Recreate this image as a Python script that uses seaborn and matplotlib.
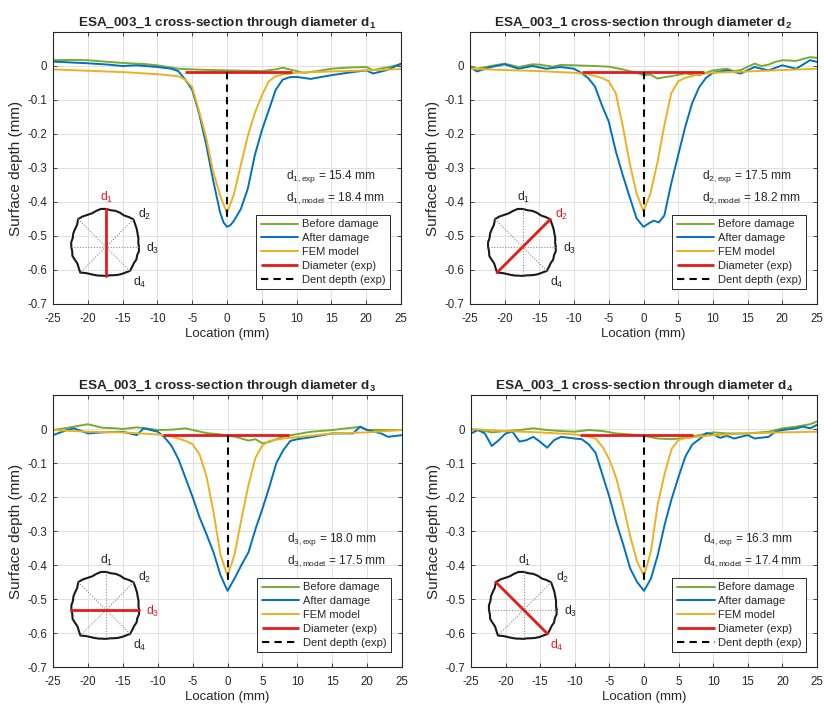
import matplotlib
matplotlib.use('Agg')
import matplotlib.pyplot as plt
import seaborn as sns
import numpy as np

# ---- data (mm) ----
panel_ids = [1, 2, 3, 4]
d_exp = [15.4, 17.5, 18.0, 16.3]
d_model = [18.4, 18.2, 17.5, 17.4]
diam_start = [-6.1, -8.8, -9.2, -9.2]
diam_end = [9.3, 8.7, 8.8, 7.1]
diam_level = [-0.019, -0.019, -0.019, -0.019]
dent_depth = [-0.458, -0.458, -0.46, -0.456]

# panel 1 (d1)
x1_before = [-25, -22, -20, -17, -15, -12, -10, -7, -5, -2, 0, 3, 5, 7, 8, 10, 11, 13, 15, 18, 20, 21, 23, 25]
y1_before = [0.017, 0.018, 0.017, 0.012, 0.009, 0.006, 0.002, -0.008, -0.01, -0.012, -0.013, -0.014, -0.015,
             -0.01, -0.005, -0.015, -0.02, -0.015, -0.008, -0.004, -0.003, -0.012, -0.004, 0.005]
x1_after = [-25, -20, -17, -15, -13, -10, -8, -7, -6, -5, -4, -3, -2, -1, -0.5, 0, 0.5, 1, 2, 3, 4, 5, 6, 7,
            8, 9, 10, 12, 15, 18, 20, 21, 23, 25]
y1_after = [0.013, 0.008, 0.004, 0.0, 0.002, -0.003, -0.008, -0.015, -0.04, -0.07, -0.14, -0.23, -0.335,
            -0.43, -0.46, -0.473, -0.468, -0.455, -0.42, -0.36, -0.262, -0.19, -0.13, -0.07, -0.04, -0.033,
            -0.032, -0.038, -0.027, -0.018, -0.013, -0.022, -0.012, 0.007]
x1_fem = [-25, -20, -15, -10, -7, -6, -5, -4, -3, -2, -1, 0, 1, 2, 3, 4, 5, 6, 7, 8, 10, 15, 20, 25]
y1_fem = [-0.01, -0.014, -0.018, -0.024, -0.03, -0.04, -0.062, -0.133, -0.21, -0.31, -0.38, -0.433, -0.377,
          -0.29, -0.205, -0.138, -0.087, -0.045, -0.03, -0.025, -0.02, -0.016, -0.013, -0.009]

# panel 2 (d2)
x2_before = [-25, -24, -22, -20, -18, -16, -15, -13, -12, -10, -7, -5, -3, -1, 0, 1, 2, 3, 4, 6, 8, 10, 12,
             13, 14, 16, 17, 18, 19, 20, 22, 24, 25]
y2_before = [0.0, -0.008, 0.0, 0.007, -0.003, 0.005, 0.004, -0.002, 0.003, 0.002, 0.0, -0.002, -0.01, -0.02,
             -0.027, -0.025, -0.037, -0.033, -0.03, -0.022, -0.027, -0.013, -0.008, -0.015, -0.012, 0.007,
             0.0, 0.004, 0.012, 0.017, 0.015, 0.026, 0.024]
x2_after = [-25, -24, -22, -20, -18, -16, -14, -12, -10, -9, -8, -7, -6, -5, -4, -3, -2, -1, 0, 1, 1.5, 2.2,
            3, 4, 5, 6, 7, 8, 9, 10, 12, 14, 16, 18, 20, 22, 24, 25]
y2_after = [-0.003, -0.016, -0.003, 0.005, -0.008, 0.0, -0.008, -0.003, -0.008, -0.02, -0.035, -0.06, -0.115,
            -0.164, -0.25, -0.32, -0.385, -0.448, -0.473, -0.46, -0.455, -0.46, -0.44, -0.345, -0.262, -0.18,
            -0.11, -0.063, -0.035, -0.02, -0.013, -0.022, -0.003, -0.013, 0.002, -0.008, 0.017, 0.012]
x2_fem = [-25, -20, -15, -10, -8, -6, -5, -4, -3, -2, -1, 0, 1, 2, 3, 4, 5, 6, 8, 10, 15, 20, 25]
y2_fem = [-0.008, -0.012, -0.015, -0.02, -0.024, -0.035, -0.045, -0.08, -0.175, -0.285, -0.375, -0.428,
          -0.375, -0.285, -0.175, -0.08, -0.045, -0.035, -0.024, -0.02, -0.016, -0.012, -0.008]

# panel 3 (d3)
x3_before = [-25, -23, -22, -20, -18, -16, -15, -13, -11, -10, -8, -6, -5, -3, -1, 0, 1, 2, 3, 4, 5, 6, 7, 8,
             10, 12, 15, 17, 19, 20, 22, 25]
y3_before = [-0.003, 0.003, 0.007, 0.014, 0.004, 0.002, 0.0, 0.005, 0.0, -0.003, -0.002, 0.002, -0.003,
             -0.012, -0.016, -0.02, -0.022, -0.028, -0.034, -0.03, -0.042, -0.038, -0.03, -0.022, -0.015,
             -0.008, -0.003, 0.002, 0.006, -0.003, -0.003, -0.003]
x3_after = [-25, -23, -22, -20, -18, -15, -13, -12, -10, -9, -8, -7, -6, -5, -4, -3, -2, -1, 0, 1, 2, 3, 4, 5,
            6, 7, 8, 9, 10, 12, 15, 18, 19, 20, 22, 23, 25]
y3_after = [-0.018, -0.003, 0.002, -0.013, -0.01, -0.008, -0.018, 0.002, -0.008, -0.025, -0.05, -0.09, -0.145,
            -0.2, -0.26, -0.31, -0.363, -0.43, -0.476, -0.44, -0.4, -0.363, -0.295, -0.235, -0.17, -0.1,
            -0.062, -0.035, -0.03, -0.024, -0.013, -0.013, 0.007, -0.003, -0.013, -0.023, -0.018]
x3_fem = [-25, -20, -15, -10, -8, -6, -5, -4, -3, -2, -1, 0, 1, 2, 3, 4, 5, 6, 8, 10, 15, 20, 25]
y3_fem = [-0.003, -0.008, -0.01, -0.016, -0.022, -0.035, -0.045, -0.075, -0.14, -0.245, -0.37, -0.432, -0.37,
          -0.265, -0.165, -0.085, -0.048, -0.035, -0.028, -0.024, -0.013, -0.01, -0.003]

# panel 4 (d4)
x4_before = [-25, -23, -22, -20, -18, -16, -14, -12, -10, -8, -6, -4, -2, 0, 2, 4, 6, 8, 10, 12, 15, 18, 20,
             22, 24, 25]
y4_before = [-0.001, -0.006, -0.01, -0.006, -0.003, 0.002, -0.003, -0.006, -0.008, -0.003, -0.006, -0.013,
             -0.016, -0.02, -0.028, -0.03, -0.026, -0.018, -0.01, -0.013, -0.013, -0.008, 0.002, 0.007,
             0.014, 0.022]
x4_after = [-25, -24, -23, -22, -21, -20, -19, -18, -17, -16, -15, -14, -13, -12, -10, -9, -8, -7, -6, -5,
            -4, -3, -2, -1, 0, 1, 2, 3, 4, 5, 6, 7, 8, 9, 10, 11, 12, 13, 15, 16, 18, 19, 20, 22, 23, 24, 25]
y4_after = [-0.013, -0.003, -0.013, -0.05, -0.033, -0.013, -0.008, -0.037, -0.033, -0.023, -0.038, -0.055,
            -0.033, -0.023, -0.028, -0.03, -0.045, -0.07, -0.135, -0.2, -0.275, -0.34, -0.41, -0.45, -0.476,
            -0.44, -0.37, -0.28, -0.205, -0.14, -0.08, -0.045, -0.03, -0.012, -0.016, -0.026, -0.02, -0.028,
            -0.018, -0.028, -0.023, -0.008, -0.003, 0.002, 0.007, 0.002, 0.012]
x4_fem = [-25, -20, -15, -10, -8, -7, -6, -5, -4, -3, -2, -1, 0, 1, 2, 3, 4, 5, 6, 8, 10, 15, 20, 25]
y4_fem = [0.0, -0.006, -0.01, -0.016, -0.022, -0.028, -0.052, -0.09, -0.145, -0.225, -0.315, -0.39, -0.432,
          -0.36, -0.22, -0.13, -0.058, -0.032, -0.027, -0.022, -0.018, -0.013, -0.01, -0.008]

# specimen outline for the little sketch: radius every 7.5 deg, starting at 3 o'clock
outline_r = [1.00, 0.99, 1.02, 1.04, 1.08, 1.12, 1.18, 1.14, 1.10, 1.12, 1.13, 1.12,
             1.15, 1.16, 1.13, 1.10, 1.12, 1.16, 1.19, 1.10, 1.08, 1.07, 1.04, 1.06,
             1.05, 1.03, 1.05, 1.02, 1.00, 1.04, 1.10, 1.00, 0.95, 0.92, 0.90, 0.88,
             0.88, 0.87, 0.89, 0.92, 0.95, 0.98, 1.03, 1.00, 0.98, 1.00, 0.98, 1.01]
diam_angles = [90, 45, 0, 135]
sketch_label_xy = [(0.02, 1.5), (1.17, 0.97), (1.42, -0.05), (1.02, -1.07)]

before_x = [x1_before, x2_before, x3_before, x4_before]
before_y = [y1_before, y2_before, y3_before, y4_before]
after_x = [x1_after, x2_after, x3_after, x4_after]
after_y = [y1_after, y2_after, y3_after, y4_after]
fem_x = [x1_fem, x2_fem, x3_fem, x4_fem]
fem_y = [y1_fem, y2_fem, y3_fem, y4_fem]

c_green = '#77AC30'
c_blue = '#0072BD'
c_yellow = '#EDB120'
c_red = '#E8191C'
c_text = '#262626'

sns.set_style('whitegrid', {'grid.color': '#e0e0e0', 'axes.edgecolor': '#262626',
                            'xtick.color': c_text, 'ytick.color': c_text, 'text.color': c_text,
                            'axes.labelcolor': c_text})
plt.rcParams['font.family'] = ['Liberation Sans', 'DejaVu Sans']
plt.rcParams['mathtext.fontset'] = 'custom'
plt.rcParams['mathtext.rm'] = 'Liberation Sans'
plt.rcParams['mathtext.it'] = 'Liberation Sans:italic'
plt.rcParams['mathtext.bf'] = 'Liberation Sans:bold'

fig = plt.figure(figsize=(8.24, 7.09), dpi=100)
W, H = 824, 709
boxes = [(53, 32, 401, 304), (470, 32, 817, 304), (53, 395, 402, 667), (471, 395, 817, 667)]

step = 360 / len(outline_r)
theta = np.deg2rad(np.arange(len(outline_r)) * step)
r_closed = np.append(outline_r, outline_r[0])
t_closed = np.append(theta, theta[0])

for i, n in enumerate(panel_ids):
    l, t, r, b = boxes[i]
    ax = fig.add_axes([l / W, (H - b) / H, (r - l) / W, (b - t) / H])

    sns.lineplot(x=before_x[i], y=before_y[i], ax=ax, color=c_green, lw=1.4,
                 estimator=None, label='Before damage', legend=False)
    sns.lineplot(x=after_x[i], y=after_y[i], ax=ax, color=c_blue, lw=1.4,
                 estimator=None, label='After damage', legend=False)
    sns.lineplot(x=fem_x[i], y=fem_y[i], ax=ax, color=c_yellow, lw=1.4,
                 estimator=None, label='FEM model', legend=False)
    ax.plot([diam_start[i], diam_end[i]], [diam_level[i], diam_level[i]], color=c_red, lw=2.0,
            label='Diameter (exp)', solid_capstyle='butt')
    ax.plot([0, 0], [diam_level[i], dent_depth[i]], color='black', lw=1.5, ls=(0, (3.5, 2.5)),
            label='Dent depth (exp)')

    ax.set_xlim(-25, 25)
    ax.set_ylim(-0.7, 0.1)
    ax.set_xticks(np.arange(-25, 26, 5))
    ax.set_yticks(np.arange(-0.7, 0.01, 0.1))
    ax.set_xticklabels([str(v) for v in range(-25, 26, 5)])
    ax.set_yticklabels(['-0.7', '-0.6', '-0.5', '-0.4', '-0.3', '-0.2', '-0.1', '0'])
    ax.tick_params(direction='in', length=3, width=0.6, top=True, right=True, labelsize=8.3,
                   bottom=True, left=True)
    ax.tick_params(axis='x', pad=6.5)
    ax.tick_params(axis='y', pad=4)
    for s in ax.spines.values():
        s.set_linewidth(0.8)
    ax.grid(True, lw=0.7)
    ax.set_xlabel('Location (mm)', fontsize=9.5, labelpad=2)
    ax.set_ylabel('Surface depth (mm)', fontsize=11, labelpad=3)
    ax.set_title('ESA_003_1 cross-section through diameter d$_{\\mathbf{' + str(n) + '}}$',
                 fontsize=9.7, fontweight='bold', pad=4)

    ax.text(0.67, 0.47, 'd$_{\\mathrm{' + str(n) + ',exp}}$ = ' + f'{d_exp[i]:.1f} mm',
            transform=ax.transAxes, fontsize=8.6, va='center', ha='left')
    ax.text(0.67, 0.39, 'd$_{\\mathrm{' + str(n) + ',model}}$ = ' + f'{d_model[i]:.1f} mm',
            transform=ax.transAxes, fontsize=8.6, va='center', ha='left')

    leg = ax.legend(loc='lower right', bbox_to_anchor=(0.968, 0.055), borderaxespad=0,
                    fontsize=8, frameon=True, fancybox=False, framealpha=1, edgecolor=c_text,
                    handlelength=3.4, handletextpad=0.3, labelspacing=0.34, borderpad=0.4)
    leg.get_frame().set_linewidth(0.7)

    # sketch of the specimen with the four diameters
    px_w, px_h = r - l, b - t
    size = 120
    L = size / 2 / 33.0
    iax = ax.inset_axes([0.152 - size / 2 / px_w, 0.21 - size / 2 / px_h, size / px_w, size / px_h])
    iax.set_xlim(-L, L)
    iax.set_ylim(-L, L)
    iax.set_xticks([])
    iax.set_yticks([])
    iax.axis('off')
    iax.plot(r_closed * np.cos(t_closed), r_closed * np.sin(t_closed), color='#1a1a1a', lw=1.5)
    for k, ang in enumerate(diam_angles):
        j1 = int(round(ang / step))
        j2 = (j1 + len(outline_r) // 2) % len(outline_r)
        a1, a2 = np.deg2rad(ang), np.deg2rad(ang + 180)
        xs = [outline_r[j1] * np.cos(a1), outline_r[j2] * np.cos(a2)]
        ys = [outline_r[j1] * np.sin(a1), outline_r[j2] * np.sin(a2)]
        if k == i:
            iax.plot(xs, ys, color=c_red, lw=2.0, zorder=3)
        else:
            iax.plot(xs, ys, color='#8a8a8a', lw=0.8, ls=(0, (1, 1.5)), zorder=2)
        lx, ly = sketch_label_xy[k]
        iax.text(lx, ly, 'd$_{\\mathrm{' + str(k + 1) + '}}$', fontsize=8.8, ha='center', va='center',
                 color=c_red if k == i else c_text, clip_on=False)

fig.savefig('out.png', dpi=100)
